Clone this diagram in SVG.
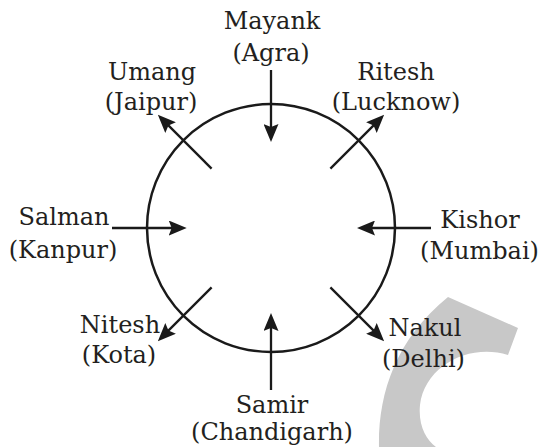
<svg xmlns="http://www.w3.org/2000/svg" width="541" height="447" viewBox="0 0 541 447">
<style>
.t{font-family:"DejaVu Serif","Liberation Serif",serif;font-size:24px;fill:#231f20;text-anchor:middle}
.c{fill:none;stroke:#1a1a1a;stroke-width:2.5}
.a{stroke:#1a1a1a;stroke-width:2.3;fill:none;marker-end:url(#ah)}
</style>
<defs>
<marker id="ah" markerUnits="userSpaceOnUse" viewBox="0 0 18 15" refX="13" refY="7.5" markerWidth="18" markerHeight="15" orient="auto">
<path d="M0,0 L18,7.5 L0,15 L3,7.5 Z" fill="#1a1a1a"/>
</marker>
</defs>
<rect width="541" height="447" fill="#fff"/>
<path id="watermark" d="M448,297 L518,328 L508,355 C470,343 425,365 420,405 C418,425 426,440 436,447 L379,447 C378,395 395,340 448,297 Z" fill="#c8c8c8"/>
<g id="circle"><circle class="c" cx="271" cy="228" r="124"/></g>
<g id="connectors">
<line class="a" x1="271" y1="70" x2="271" y2="137"/>
<line class="a" x1="271" y1="390" x2="271" y2="318"/>
<line class="a" x1="112" y1="228" x2="181.7" y2="228"/>
<line class="a" x1="431" y1="228" x2="362" y2="228"/>
<line class="a" x1="211.6" y1="168.6" x2="161.4" y2="118.4"/>
<line class="a" x1="330.4" y1="168.6" x2="380.6" y2="118.4"/>
<line class="a" x1="211.6" y1="287.4" x2="161.4" y2="337.6"/>
<line class="a" x1="330.4" y1="287.4" x2="380.6" y2="337.6"/>
</g>
<g id="mayank"><text class="t" x="272" y="29">Mayank</text><text class="t" x="271" y="61">(Agra)</text></g>
<g id="umang"><text class="t" x="152" y="80">Umang</text><text class="t" x="151" y="110">(Jaipur)</text></g>
<g id="ritesh"><text class="t" x="396" y="80">Ritesh</text><text class="t" x="396" y="110">(Lucknow)</text></g>
<g id="salman"><text class="t" x="64" y="225">Salman</text><text class="t" x="63" y="258">(Kanpur)</text></g>
<g id="kishor"><text class="t" x="480" y="228">Kishor</text><text class="t" x="479.5" y="259">(Mumbai)</text></g>
<g id="nitesh"><text class="t" x="120" y="333">Nitesh</text><text class="t" x="119" y="363">(Kota)</text></g>
<g id="nakul"><text class="t" x="425" y="336">Nakul</text><text class="t" x="423.5" y="367">(Delhi)</text></g>
<g id="samir"><text class="t" x="272" y="413">Samir</text><text class="t" x="272" y="440">(Chandigarh)</text></g>
</svg>
